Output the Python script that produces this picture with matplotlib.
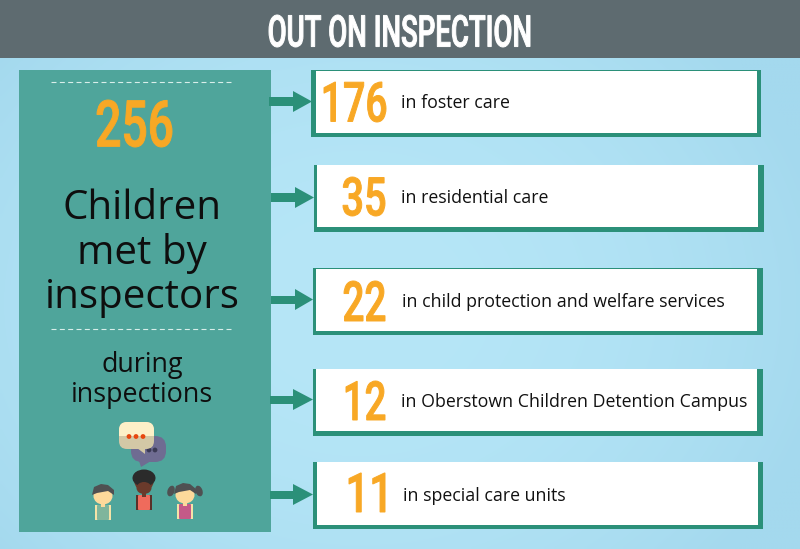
import numpy as np
import matplotlib
matplotlib.use("Agg")
import matplotlib.pyplot as plt
from matplotlib.patches import Rectangle, Polygon, Circle, Ellipse, FancyBboxPatch, PathPatch
from matplotlib.text import Text
from matplotlib.textpath import TextPath
from matplotlib.transforms import Affine2D, Bbox
from matplotlib.font_manager import FontProperties

title = "OUT ON INSPECTION"
total = "256"
head_lines = ["Children", "met by", "inspectors"]
sub_lines = ["during", "inspections"]
counts = ["176", "35", "22", "12", "11"]
labels = ["in foster care", "in residential care", "in child protection and welfare services",
          "in Oberstown Children Detention Campus", "in special care units"]

# layout (pixels): outer box, then white inner box
box_left = [311, 314, 313, 313, 313]
box_top = [70, 165, 268, 369, 462]
box_bottom = [137, 232, 335, 436, 529]
box_right = [761, 764, 763, 763, 763]
in_left = [316, 317, 316, 316, 317]
in_top = [71, 165, 269, 369, 462]
in_bottom = [133, 227, 331, 431, 525]
in_right = [757, 758, 757, 757, 758]
# count ink boxes
num_left = [324, 343, 344, 346, 349]
num_right = [386, 385, 385, 385, 385]
num_top = [82, 177, 281, 381, 473]
num_bottom = [122, 216, 321, 420, 512]
label_x = [401, 401, 402, 401, 403]
label_base = [108, 203, 307, 407, 501]
# arrows
shaft_x = [269, 271, 271, 270, 270]
shaft_half = [4.3, 4.3, 4, 4, 4]
head_x = [293, 295, 295, 293, 293]
tip_x = [312, 314, 313, 313, 313]
arrow_y = [101.5, 197.5, 299.5, 399.5, 494.5]

GREEN = "#2b9079"
ORANGE = "#f8a825"
INK = "#0e0e0e"


class FittedText(Text):
    """Real text whose glyphs are stretched to fill a given pixel box (condensed look)."""

    def __init__(self, box, **kw):
        self.box = box
        l, t, r, b = box
        super().__init__((l + r) / 2, (t + b) / 2, ha="center", va="center", **kw)

    def _corners(self):
        l, t, r, b = self.box
        return self.get_transform().transform([(l, b), (r, t)])

    def get_window_extent(self, renderer=None, dpi=None):
        return Bbox(self._corners())

    def draw(self, renderer):
        if not self.get_visible():
            return
        tp = TextPath((0, 0), self.get_text(), size=100, prop=self.get_fontproperties())
        e = tp.get_extents()
        (x0, y0), (x1, y1) = self._corners()
        tr = Affine2D().translate(-e.x0, -e.y0).scale((x1 - x0) / e.width, (y1 - y0) / e.height).translate(x0, y0)
        p = PathPatch(tp, fc=self.get_color(), ec=self.get_color(), lw=0.7, transform=tr)
        p.set_figure(self.get_figure())
        p.draw(renderer)


fig = plt.figure(figsize=(8, 5.49), dpi=100)
ax = fig.add_axes([0, 0, 1, 1])
ax.set_xlim(0, 800); ax.set_ylim(549, 0); ax.axis("off")


def fitted(s, box, color):
    t = FittedText(box, text=s, color=color, fontproperties=FontProperties(family="Roboto", weight="medium"), zorder=6)
    ax.add_artist(t)
    t.set_transform(ax.transData)
    return t


# background
yy, xx = np.mgrid[0:1:120j, 0:1:200j]
glow = np.clip(1 - ((xx - 0.45) / 0.6) ** 2 - ((yy - 0.5) / 0.8) ** 2, 0, 1)[..., None]
c0, c1 = np.array([0xa4, 0xd9, 0xee]), np.array([0xb6, 0xe6, 0xf7])
ax.imshow((c0 + (c1 - c0) * glow) / 255, extent=(0, 800, 549, 58), aspect="auto", zorder=0, interpolation="bilinear")
ax.set_xlim(0, 800); ax.set_ylim(549, 0)
ax.add_patch(Rectangle((0, 0), 800, 58, fc="#5e6b70", ec="none", zorder=1))
fitted(title, (269, 15, 530, 47), "white")

# left panel
ax.add_patch(Rectangle((19, 70), 252, 462, fc="#4fa59b", ec="none", zorder=1))
for y in (81.5, 328.5):
    ax.plot([51, 234], [y, y], color="#d9eeea", lw=0.8, dashes=(4.5, 3), zorder=2)
fitted(total, (97, 100, 172, 147), ORANGE)
for s, y in zip(head_lines, [219, 264, 308]):
    ax.text(142, y, s, color=INK, fontsize=29, family="Open Sans", ha="center", va="baseline", zorder=3)
for s, y in zip(sub_lines, [372, 402]):
    ax.text(142, y, s, color=INK, fontsize=19.4, family="Open Sans", ha="center", va="baseline", zorder=3)

# cards and arrows
for i in range(len(counts)):
    ax.add_patch(Rectangle((box_left[i], box_top[i]), box_right[i] - box_left[i], box_bottom[i] - box_top[i], fc=GREEN, ec="none", zorder=2))
    ax.add_patch(Rectangle((in_left[i], in_top[i]), in_right[i] - in_left[i], in_bottom[i] - in_top[i], fc="white", ec="none", zorder=2.5))
    fitted(counts[i], (num_left[i], num_top[i], num_right[i], num_bottom[i]), ORANGE)
    ax.text(label_x[i], label_base[i], labels[i], color="#111111", fontsize=12.75, family="Open Sans", ha="left", va="baseline", zorder=3)
    ay = arrow_y[i]
    ax.add_patch(Rectangle((shaft_x[i], ay - shaft_half[i]), head_x[i] - shaft_x[i] + 1, 2 * shaft_half[i], fc=GREEN, ec="none", zorder=1.5))
    ax.add_patch(Polygon([(head_x[i], ay - 10.5), (tip_x[i], ay), (head_x[i], ay + 10.5)], fc=GREEN, ec="none", zorder=1.5))

# speech bubbles
PURPLE = "#6f6c92"
ax.add_patch(FancyBboxPatch((131, 436), 35, 26, boxstyle="round,pad=0,rounding_size=11", fc=PURPLE, ec="none", zorder=3))
ax.add_patch(Polygon([(138, 458), (141, 467), (151, 461)], fc=PURPLE, ec="none", zorder=3))
for x in (149, 155):
    ax.add_patch(Circle((x, 450), 2.4, fc="#3b3a55", ec="none", zorder=3.2))
ax.add_patch(FancyBboxPatch((119, 422), 35, 27, boxstyle="round,pad=0,rounding_size=8", fc="#d3c8a6", ec="none", zorder=4))
ax.add_patch(Polygon([(137, 448), (145, 454), (145, 447)], fc="#d3c8a6", ec="none", zorder=4))
cream = FancyBboxPatch((119, 422), 35, 27, boxstyle="round,pad=0,rounding_size=8", fc="#fdf0c8", ec="none", zorder=4.1)
ax.add_patch(cream)
cream.set_clip_path(Rectangle((119, 422), 35, 14, transform=ax.transData))
for x in (129, 136, 143):
    ax.add_patch(Circle((x, 436.5), 2.4, fc="#e8470e", ec="none", zorder=5))


# children
def kid(x, top, hair, skin, shirt, arm, dy_body=0):
    ax.add_patch(Rectangle((x - 8, top + 21 + dy_body), 16, 15, fc=arm, ec="none", zorder=3))
    ax.add_patch(FancyBboxPatch((x - 6, top + 21 + dy_body), 12, 15, boxstyle="round,pad=0,rounding_size=1", fc=shirt, ec="none", zorder=3.1))
    ax.add_patch(Rectangle((x - 2, top + 17), 4, 6 + dy_body, fc=skin, ec="none", zorder=3.2))
    ax.add_patch(Ellipse((x, top + 12), 19, 17, fc=skin, ec="none", zorder=4))
    ax.add_patch(Polygon([(x - 11, top + 11), (x - 9, top + 3), (x - 2, top), (x + 5, top + 1),
                          (x + 11, top + 6), (x + 11, top + 11), (x + 5, top + 7), (x - 6, top + 9)],
                         fc=hair, ec="none", zorder=5))


kid(103, 484, "#4f5052", "#fdd99b", "#7fb59c", "#f5e3a8")
kid(144, 470, "#2b2b2b", "#6a3a2b", "#ef6b5c", "#5a3028", dy_body=4)
ax.add_patch(Ellipse((144, 478), 23, 17, fc="#2b2b2b", ec="none", zorder=5))
ax.add_patch(Ellipse((144, 488), 15, 12, fc="#6a3a2b", ec="none", zorder=5.1))
kid(185, 483, "#4f5052", "#fdd99b", "#c45a88", "#f5e3a8")
ax.add_patch(Ellipse((171, 491), 7, 11, angle=20, fc="#4f5052", ec="none", zorder=4))
ax.add_patch(Ellipse((199, 491), 7, 11, angle=-20, fc="#4f5052", ec="none", zorder=4))

fig.savefig("out.png", dpi=100)
